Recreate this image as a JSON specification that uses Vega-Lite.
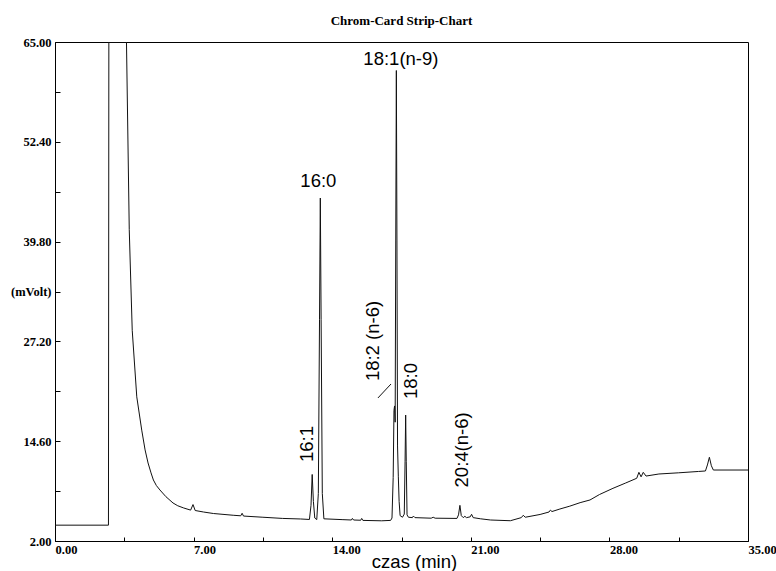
{
  "$schema": "https://vega.github.io/schema/vega-lite/v6.json",
  "width": 693,
  "height": 499,
  "autosize": "none",
  "padding": {"left": 55, "top": 42, "right": 28, "bottom": 30},
  "background": "white",
  "title": {"text": "Chrom-Card Strip-Chart", "font": "Liberation Serif", "fontSize": 13, "fontWeight": "bold", "color": "black", "anchor": "middle", "offset": -2, "baseline": "alphabetic"},
  "config": {
    "view": {"stroke": "black", "strokeWidth": 1},
    "axis": {"grid": false, "domainColor": "black", "tickColor": "black", "labelColor": "black", "labelFont": "Liberation Serif", "labelFontWeight": "bold", "labelFontSize": 12.5, "labelOverlap": false, "labelFlush": false, "labelBound": false}
  },
  "datasets": {
    "trace": [
      {"t": 0, "v": 4.0}, {"t": 2.70, "v": 4.0}, {"t": 2.72, "v": 65}, {"t": 3.61, "v": 65},
      {"t": 3.75, "v": 41.3}, {"t": 3.90, "v": 28.6}, {"t": 4.13, "v": 20.2}, {"t": 4.38, "v": 16.0},
      {"t": 4.55, "v": 13.5}, {"t": 4.70, "v": 11.85}, {"t": 4.85, "v": 10.6}, {"t": 4.97, "v": 9.7},
      {"t": 5.12, "v": 9.0}, {"t": 5.30, "v": 8.44}, {"t": 5.6, "v": 7.6}, {"t": 5.96, "v": 6.8},
      {"t": 6.2, "v": 6.45}, {"t": 6.5, "v": 6.17}, {"t": 6.85, "v": 5.9}, {"t": 6.97, "v": 6.6}, {"t": 7.08, "v": 5.85},
      {"t": 7.5, "v": 5.66}, {"t": 8.0, "v": 5.47}, {"t": 9.0, "v": 5.25}, {"t": 9.38, "v": 5.18},
      {"t": 9.45, "v": 5.5}, {"t": 9.52, "v": 5.15}, {"t": 10.5, "v": 5.0}, {"t": 11.5, "v": 4.85},
      {"t": 12.4, "v": 4.78}, {"t": 12.85, "v": 4.72}, {"t": 12.93, "v": 6.5}, {"t": 12.99, "v": 10.4},
      {"t": 13.05, "v": 7.0}, {"t": 13.12, "v": 4.9}, {"t": 13.22, "v": 4.7}, {"t": 13.30, "v": 8.0},
      {"t": 13.36, "v": 30.0}, {"t": 13.40, "v": 45.3}, {"t": 13.44, "v": 30.0}, {"t": 13.50, "v": 8.0},
      {"t": 13.58, "v": 4.8}, {"t": 14.5, "v": 4.7}, {"t": 14.97, "v": 4.65}, {"t": 15.02, "v": 4.85},
      {"t": 15.08, "v": 4.65}, {"t": 15.44, "v": 4.62}, {"t": 15.49, "v": 4.85}, {"t": 15.55, "v": 4.6},
      {"t": 16.5, "v": 4.55}, {"t": 16.95, "v": 4.6}, {"t": 17.02, "v": 4.9}, {"t": 17.08, "v": 10.0},
      {"t": 17.12, "v": 18.5}, {"t": 17.15, "v": 19.05}, {"t": 17.18, "v": 17.0}, {"t": 17.21, "v": 40.0},
      {"t": 17.24, "v": 61.4}, {"t": 17.27, "v": 40.0}, {"t": 17.30, "v": 14.0}, {"t": 17.34, "v": 10.1},
      {"t": 17.38, "v": 7.0}, {"t": 17.43, "v": 5.2}, {"t": 17.55, "v": 5.0}, {"t": 17.64, "v": 5.4},
      {"t": 17.68, "v": 12.0}, {"t": 17.71, "v": 17.9}, {"t": 17.74, "v": 12.0}, {"t": 17.78, "v": 5.3},
      {"t": 17.85, "v": 5.0}, {"t": 18.05, "v": 4.95}, {"t": 18.1, "v": 5.15}, {"t": 18.18, "v": 4.95},
      {"t": 19.0, "v": 4.88}, {"t": 19.1, "v": 5.0}, {"t": 19.2, "v": 4.88}, {"t": 20.3, "v": 4.85},
      {"t": 20.38, "v": 5.3}, {"t": 20.45, "v": 6.5}, {"t": 20.52, "v": 5.2}, {"t": 20.62, "v": 4.95},
      {"t": 20.7, "v": 5.12}, {"t": 20.78, "v": 4.95}, {"t": 20.97, "v": 5.05}, {"t": 21.04, "v": 5.37},
      {"t": 21.12, "v": 4.95}, {"t": 21.5, "v": 4.8}, {"t": 22.0, "v": 4.65}, {"t": 23.0, "v": 4.56},
      {"t": 23.55, "v": 4.95}, {"t": 23.65, "v": 5.25}, {"t": 23.75, "v": 5.0}, {"t": 24.5, "v": 5.35},
      {"t": 24.95, "v": 5.66}, {"t": 25.02, "v": 5.9}, {"t": 25.1, "v": 5.72}, {"t": 25.5, "v": 6.04},
      {"t": 26.0, "v": 6.4}, {"t": 26.52, "v": 6.84}, {"t": 27.02, "v": 7.18}, {"t": 27.5, "v": 7.87},
      {"t": 28.18, "v": 8.65}, {"t": 28.8, "v": 9.3}, {"t": 29.38, "v": 9.92}, {"t": 29.49, "v": 10.67},
      {"t": 29.6, "v": 10.1}, {"t": 29.71, "v": 10.67}, {"t": 29.85, "v": 10.2}, {"t": 30.5, "v": 10.46},
      {"t": 31.5, "v": 10.61}, {"t": 32.5, "v": 10.78}, {"t": 32.85, "v": 10.84}, {"t": 32.95, "v": 11.6},
      {"t": 33.05, "v": 12.57}, {"t": 33.15, "v": 11.5}, {"t": 33.25, "v": 10.96}, {"t": 35.0, "v": 10.96}
    ],
    "flat": [
      {"label": "16:0", "t": 13.3, "v": 46.7},
      {"label": "18:1(n-9)", "t": 17.47, "v": 62.1}
    ],
    "rotated": [
      {"label": "16:1", "t": 13.05, "v": 14.25},
      {"label": "18:2 (n-6)", "t": 16.36, "v": 27.25},
      {"label": "18:0", "t": 18.27, "v": 22.2},
      {"label": "20:4(n-6)", "t": 20.86, "v": 13.5}
    ],
    "leader": [
      {"t1": 16.31, "v1": 20.06, "t2": 16.97, "v2": 21.82}
    ]
  },
  "layer": [
    {
      "data": {"name": "trace"},
      "mark": {"type": "line", "color": "#111111", "strokeWidth": 1, "clip": true},
      "encoding": {
        "x": {"field": "t", "type": "quantitative",
          "scale": {"domain": [0, 35], "nice": false, "zero": false},
          "axis": {"values": [0, 3.5, 7, 10.5, 14, 17.5, 21, 24.5, 28, 31.5, 35],
            "labelExpr": "datum.value % 7 == 0 ? format(datum.value, '.2f') : ''",
            "labelAlign": "left", "labelBaseline": "top", "tickSize": -4, "labelPadding": 6.5,
            "title": "czas (min)", "titleFont": "Liberation Sans", "titleFontSize": 18.5, "titleFontWeight": "normal", "titleColor": "black",
            "titleX": 359, "titleY": 26, "titleAlign": "center", "titleBaseline": "alphabetic", "titleAnchor": "start"}},
        "y": {"field": "v", "type": "quantitative",
          "scale": {"domain": [2, 65], "nice": false, "zero": false},
          "axis": {"values": [2, 8.3, 14.6, 20.9, 27.2, 33.5, 39.8, 46.1, 52.4, 58.7, 65],
            "labelExpr": "datum.value == 33.5 ? '(mVolt)' : (abs((datum.value - 2) / 12.6 - round((datum.value - 2) / 12.6)) < 0.01 ? format(datum.value, '.2f') : '')",
            "tickSize": -5, "labelPadding": 9, "title": null}}
      }
    },
    {
      "data": {"name": "leader"},
      "mark": {"type": "rule", "color": "#111111", "strokeWidth": 1},
      "encoding": {
        "x": {"field": "t1", "type": "quantitative"},
        "y": {"field": "v1", "type": "quantitative"},
        "x2": {"field": "t2"},
        "y2": {"field": "v2"}
      }
    },
    {
      "data": {"name": "flat"},
      "mark": {"type": "text", "font": "Liberation Sans", "fontSize": 18.5, "color": "black", "align": "center", "baseline": "alphabetic"},
      "encoding": {
        "x": {"field": "t", "type": "quantitative"},
        "y": {"field": "v", "type": "quantitative"},
        "text": {"field": "label"}
      }
    },
    {
      "data": {"name": "rotated"},
      "mark": {"type": "text", "font": "Liberation Sans", "fontSize": 18.5, "color": "black", "align": "center", "baseline": "alphabetic", "angle": 270},
      "encoding": {
        "x": {"field": "t", "type": "quantitative"},
        "y": {"field": "v", "type": "quantitative"},
        "text": {"field": "label"}
      }
    }
  ]
}
